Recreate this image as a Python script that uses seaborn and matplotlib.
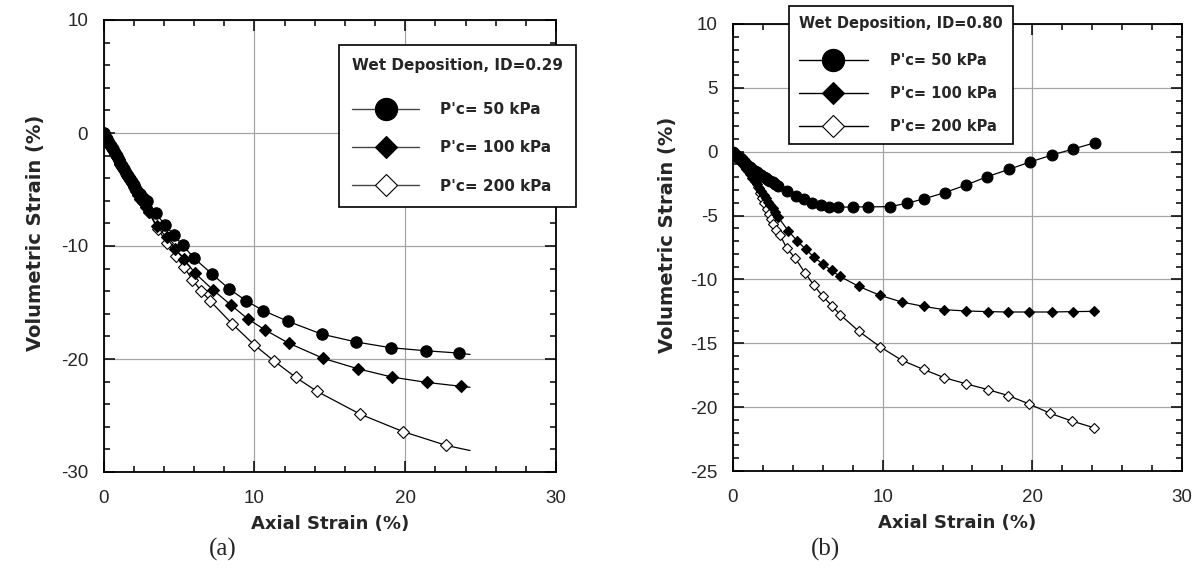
import numpy as np
import pandas as pd
import matplotlib
matplotlib.use("Agg")
import matplotlib.pyplot as plt
from matplotlib.lines import Line2D
from matplotlib.ticker import MultipleLocator
import seaborn as sns

# ---------------- data: panel (a) Wet Deposition, ID=0.29 ----------------
a50_x = [0, 0.12, 0.25, 0.37, 0.5, 0.62, 0.75, 0.87, 1.0, 1.12, 1.25, 1.37, 1.5, 1.62, 1.75,
         1.87, 2.0, 2.12, 2.25, 2.4, 2.55, 2.7, 2.86, 3.46, 4.1, 4.67, 5.24, 6.01, 7.17, 8.33,
         9.44, 10.58, 12.2, 14.47, 16.77, 19.04, 21.36, 23.6]
a50_y = [0, -0.25, -0.55, -0.85, -1.15, -1.45, -1.75, -2.05, -2.35, -2.65, -2.95, -3.2, -3.5,
         -3.8, -4.05, -4.35, -4.6, -4.85, -5.1, -5.4, -5.65, -5.85, -6.06, -7.12, -8.15, -9.06,
         -9.91, -11.08, -12.45, -13.8, -14.83, -15.71, -16.65, -17.8, -18.5, -19.0, -19.27, -19.48]

a100_x = [0, 0.12, 0.25, 0.37, 0.5, 0.62, 0.75, 0.87, 1.0, 1.12, 1.25, 1.37, 1.5, 1.62, 1.75,
          1.87, 2.0, 2.15, 2.3, 2.45, 2.6, 2.8, 3.0, 3.54, 4.18, 4.74, 5.33, 6.08, 7.27, 8.42,
          9.57, 10.7, 12.28, 14.58, 16.85, 19.13, 21.42, 23.72]
a100_y = [0, -0.27, -0.58, -0.88, -1.2, -1.5, -1.8, -2.1, -2.4, -2.7, -3.0, -3.28, -3.58,
          -3.88, -4.15, -4.45, -4.75, -5.1, -5.45, -5.8, -6.1, -6.55, -7.0, -8.24, -9.24,
          -10.27, -11.15, -12.42, -13.89, -15.2, -16.45, -17.42, -18.6, -19.95, -20.86, -21.6,
          -22.07, -22.42]

a200_x = [0, 0.12, 0.25, 0.37, 0.5, 0.62, 0.75, 0.87, 1.0, 1.12, 1.25, 1.37, 1.5, 1.62, 1.75,
          1.87, 2.0, 2.15, 2.3, 2.45, 2.6, 2.8, 3.0, 3.6, 4.23, 4.8, 5.35, 5.9, 6.46, 7.05,
          8.55, 9.99, 11.28, 12.74, 14.15, 17.03, 19.85, 22.73]
a200_y = [0, -0.27, -0.58, -0.88, -1.2, -1.5, -1.8, -2.1, -2.4, -2.7, -3.0, -3.28, -3.58,
          -3.88, -4.15, -4.45, -4.75, -5.1, -5.45, -5.8, -6.1, -6.55, -7.0, -8.5, -9.73,
          -10.92, -11.89, -13.0, -13.95, -14.83, -16.92, -18.74, -20.15, -21.62, -22.86,
          -24.89, -26.42, -27.65]

# fitted curves run a little past the last measured point in panel (a)
a_end_x = [24.3, 24.3, 24.3]
a_end_y = [-19.6, -22.5, -28.1]

# ---------------- data: panel (b) Wet Deposition, ID=0.80 ----------------
b50_x = [0, 0.1, 0.2, 0.3, 0.4, 0.5, 0.6, 0.7, 0.8, 0.9, 1.0, 1.15, 1.3, 1.45, 1.6, 1.75, 1.9,
         2.05, 2.2, 2.35, 2.5, 2.65, 2.8, 3.03, 3.63, 4.21, 4.75, 5.3, 5.86, 6.44, 7.0, 8.05,
         9.05, 10.5, 11.6, 12.73, 14.16, 15.58, 17.0, 18.44, 19.86, 21.31, 22.7, 24.17]
b50_y = [0, -0.13, -0.26, -0.38, -0.49, -0.6, -0.7, -0.81, -0.91, -1.0, -1.09, -1.22, -1.35,
         -1.48, -1.61, -1.73, -1.85, -1.96, -2.07, -2.18, -2.29, -2.39, -2.5, -2.68, -3.07,
         -3.44, -3.72, -3.98, -4.16, -4.3, -4.35, -4.32, -4.32, -4.3, -4.04, -3.7, -3.2, -2.6,
         -1.95, -1.38, -0.8, -0.26, 0.2, 0.7]

b100_x = [0, 0.1, 0.2, 0.3, 0.4, 0.5, 0.6, 0.7, 0.8, 0.9, 1.0, 1.15, 1.3, 1.45, 1.6, 1.75, 1.9,
          2.05, 2.2, 2.35, 2.5, 2.65, 2.8, 3.03, 3.7, 4.3, 4.85, 5.4, 6.0, 6.59, 7.15, 8.41,
          9.83, 11.28, 12.73, 14.13, 15.56, 17.01, 18.38, 19.79, 21.3, 22.69, 24.1]
b100_y = [0, -0.12, -0.25, -0.38, -0.52, -0.67, -0.83, -0.99, -1.16, -1.33, -1.5, -1.76,
          -2.02, -2.28, -2.55, -2.82, -3.09, -3.36, -3.63, -3.9, -4.17, -4.44, -4.72, -5.15,
          -6.2, -7.0, -7.62, -8.25, -8.8, -9.3, -9.77, -10.55, -11.25, -11.77, -12.11, -12.37,
          -12.47, -12.52, -12.55, -12.55, -12.55, -12.52, -12.5]

b200_x = [0, 0.15, 0.3, 0.45, 0.6, 0.75, 0.9, 1.05, 1.2, 1.35, 1.5, 1.65, 1.8, 1.95, 2.1, 2.25,
          2.4, 2.55, 2.7, 2.9, 3.13, 3.59, 4.15, 4.82, 5.4, 6.0, 6.6, 7.16, 8.41, 9.83, 11.28,
          12.73, 14.13, 15.56, 17.01, 18.37, 19.77, 21.2, 22.65, 24.1]
b200_y = [0, -0.1, -0.2, -0.3, -0.42, -0.6, -0.85, -1.15, -1.5, -1.88, -2.3, -2.75, -3.2,
          -3.62, -4.05, -4.45, -4.85, -5.25, -5.65, -6.1, -6.5, -7.55, -8.33, -9.5, -10.45,
          -11.33, -12.05, -12.76, -14.06, -15.28, -16.33, -17.05, -17.7, -18.17, -18.62,
          -19.09, -19.74, -20.49, -21.09, -21.61]

series_labels = ["P'c= 50 kPa", "P'c= 100 kPa", "P'c= 200 kPa"]
titles = ["Wet Deposition, ID=0.29", "Wet Deposition, ID=0.80"]
panel_tags = ["(a)", "(b)"]
x_ticks = [0, 10, 20, 30]
a_y_ticks = [-30, -20, -10, 0, 10]
b_y_ticks = [-25, -20, -15, -10, -5, 0, 5, 10]

# ---------------- styling ----------------
sns.set_style("ticks")
plt.rcParams["font.family"] = ["Liberation Sans", "DejaVu Sans"]
plt.rcParams["axes.unicode_minus"] = False
BOLD = ["DejaVu Sans"]

W, H = 1198, 574
fig = plt.figure(figsize=(W / 100, H / 100), dpi=100)


def px_rect(x0, y0, x1, y1):
    return [x0 / W, 1 - y1 / H, (x1 - x0) / W, (y1 - y0) / H]


axA = fig.add_axes(px_rect(103.5, 20, 556, 472))
axB = fig.add_axes(px_rect(733, 24, 1182, 471))

styles = [
    dict(marker="o", mfc="black", mec="black"),
    dict(marker="D", mfc="black", mec="black"),
    dict(marker="D", mfc="white", mec="black"),
]


def draw(ax, xs, ys, ends_x, ends_y, msz):
    for i in [2, 1, 0]:
        x = list(xs[i])
        y = list(ys[i])
        n = len(x)
        if ends_x is not None:
            x = x + [ends_x[i]]
            y = y + [ends_y[i]]
        df = pd.DataFrame({"x": x, "y": y})
        st = styles[i]
        ms = msz[0] if st["marker"] == "o" else msz[1]
        sns.lineplot(data=df, x="x", y="y", ax=ax, sort=False, estimator=None,
                     color="black", linewidth=0.9, marker=st["marker"],
                     markersize=ms, markerfacecolor=st["mfc"], markeredgecolor=st["mec"],
                     markeredgewidth=0.8, markevery=list(range(n)), zorder=3 + (2 - i))


draw(axA, [a50_x, a100_x, a200_x], [a50_y, a100_y, a200_y], a_end_x, a_end_y, (8.2, 5.8))
draw(axB, [b50_x, b100_x, b200_x], [b50_y, b100_y, b200_y], None, None, (7.8, 5.5))


def style_axes(ax, yticks, yminor, ylab_xy):
    ax.set_xlim(0, 30)
    ax.set_ylim(yticks[0], yticks[-1])
    ax.set_xticks(x_ticks)
    ax.set_yticks(yticks)
    ax.xaxis.set_minor_locator(MultipleLocator(2))
    ax.yaxis.set_minor_locator(MultipleLocator(yminor))
    ax.grid(True, which="major", color="#a5a5a5", linewidth=0.9, linestyle="-", zorder=0)
    ax.set_axisbelow(True)
    for s in ax.spines.values():
        s.set_visible(True)
        s.set_color("black")
        s.set_linewidth(1.3)
    ax.tick_params(which="both", direction="in", top=True, right=True,
                   color="black", width=1.1)
    ax.tick_params(which="major", length=8, labelsize=13.5)
    ax.tick_params(axis="x", which="major", pad=13)
    ax.tick_params(axis="y", which="major", pad=11)
    ax.tick_params(which="minor", length=4.5)
    ax.set_xlabel("Axial Strain (%)", fontsize=13, fontweight="bold", family=BOLD,
                  labelpad=6)
    ax.set_ylabel("Volumetric Strain (%)", fontsize=14, fontweight="bold", family=BOLD)
    ax.yaxis.set_label_coords(*ylab_xy)


style_axes(axA, a_y_ticks, 2, (-0.129, 0.528))
style_axes(axB, b_y_ticks, 1, (-0.125, 0.528))


def make_legend(ax, title, anchor_px, fs, mso, msd, hl, htp, ls, bp, title_sep, lc):
    handles = []
    for st in styles:
        ms = mso if st["marker"] == "o" else msd
        handles.append(Line2D([], [], color=lc, linewidth=1.0, marker=st["marker"],
                              markersize=ms, markerfacecolor=st["mfc"],
                              markeredgecolor="black", markeredgewidth=0.8))
    leg = ax.legend(handles, series_labels, title=title, loc="upper left",
                    bbox_to_anchor=(anchor_px[0] / W, 1 - anchor_px[1] / H),
                    bbox_transform=fig.transFigure, borderaxespad=0,
                    prop=dict(weight="bold", size=fs, family=BOLD),
                    title_fontproperties=dict(weight="bold", size=fs, family=BOLD),
                    frameon=True, fancybox=False, edgecolor="black", framealpha=1,
                    handlelength=hl, handletextpad=htp, labelspacing=ls,
                    borderpad=bp, alignment="left")
    leg._legend_box.sep = title_sep
    leg.get_frame().set_linewidth(1.2)
    leg.set_zorder(10)
    return leg


make_legend(axA, titles[0], (339, 45), 11, 16, 11, 4.4, 1.35, 1.52, 0.85, 21, "#444444")
make_legend(axB, titles[1], (789, 6), 10.5, 16, 11, 4.7, 1.55, 1.22, 0.7, 16, "black")

for tag, xc in zip(panel_tags, [223, 826]):
    fig.text(xc / W, 1 - 549 / H, tag, ha="center", va="center", fontsize=18,
             family=["Liberation Serif", "DejaVu Serif"])

fig.savefig("out.png", dpi=100)
